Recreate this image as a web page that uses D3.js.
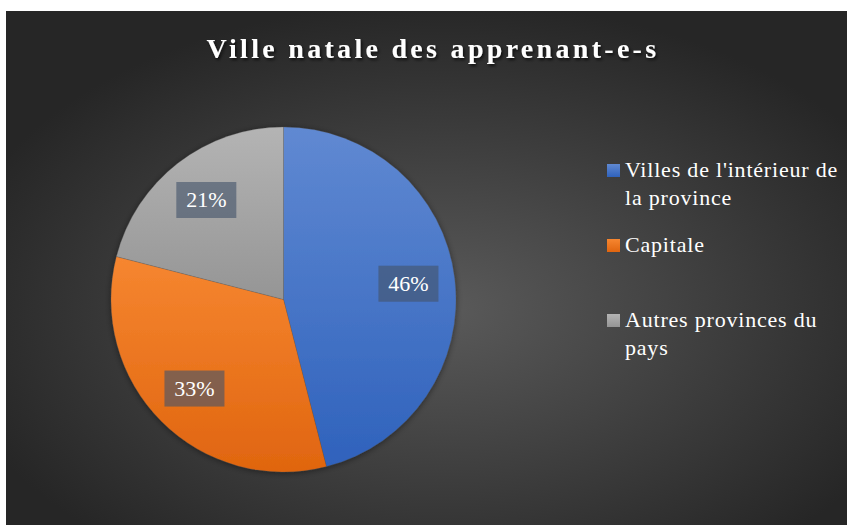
<!DOCTYPE html>
<html>
<head>
<meta charset="utf-8">
<script src="https://cdn.jsdelivr.net/npm/d3@7"></script>
<style>
  body { margin: 0; background: #fff; }
  svg { display: block; }
  .serif { font-family: "Liberation Serif", "DejaVu Serif", serif; }
</style>
</head>
<body>
<svg id="chart" width="847" height="525"></svg>
<script>
// data
var categories = ["Villes de l'intérieur de la province", "Capitale", "Autres provinces du pays"];
var legendLines = [["Villes de l'intérieur de", "la province"], ["Capitale"], ["Autres provinces du", "pays"]];
var values = [46, 33, 21];
var titleText = "Ville natale des apprenant-e-s";

var W = 847, H = 525;
var svg = d3.select("#chart");
var defs = svg.append("defs");

// background gradient
var bg = defs.append("radialGradient").attr("id", "bgGrad")
    .attr("cx", "52%").attr("cy", "58%").attr("r", "60%");
bg.append("stop").attr("offset", "0%").attr("stop-color", "#5a5a5a");
bg.append("stop").attr("offset", "100%").attr("stop-color", "#262626");

// slice gradients (light on top, darker bottom)
var sliceCols = [["#6089d2", "#2f62bc"], ["#f68630", "#e0650f"], ["#b4b4b4", "#959595"]];
sliceCols.forEach(function(c, i){
    var g = defs.append("linearGradient").attr("id", "sg"+i)
        .attr("x1", 0).attr("y1", 0).attr("x2", 0).attr("y2", 1);
    g.append("stop").attr("offset", "0%").attr("stop-color", c[0]);
    g.append("stop").attr("offset", "100%").attr("stop-color", c[1]);
});

var sh = defs.append("filter").attr("id", "pieShadow")
    .attr("x", "-10%").attr("y", "-10%").attr("width", "120%").attr("height", "120%");
sh.append("feDropShadow").attr("dx", 0).attr("dy", 1).attr("stdDeviation", 3)
    .attr("flood-color", "#000").attr("flood-opacity", 0.45);

var tsh = defs.append("filter").attr("id", "titleShadow")
    .attr("x", "-5%").attr("y", "-20%").attr("width", "110%").attr("height", "160%");
tsh.append("feDropShadow").attr("dx", 1.5).attr("dy", 2).attr("stdDeviation", 1.5)
    .attr("flood-color", "#000").attr("flood-opacity", 0.7);

svg.append("rect")
    .attr("x", 6).attr("y", 11)
    .attr("width", W - 6).attr("height", H - 11)
    .attr("fill", "url(#bgGrad)");

// title
svg.append("text")
    .attr("class", "serif")
    .attr("x", 433).attr("y", 58)
    .attr("text-anchor", "middle")
    .attr("font-weight", "bold")
    .attr("font-size", 28)
    .attr("letter-spacing", 3.3)
    .attr("fill", "#fff")
    .attr("filter", "url(#titleShadow)")
    .text(titleText);

// pie
var cx = 283.5, cy = 299.5, r = 172.5;
var pie = d3.pie().sort(null).value(function(d){ return d; });
var arcs = pie(values);
var arc = d3.arc().innerRadius(0).outerRadius(r);
var labelArc = d3.arc().innerRadius(r * 0.73).outerRadius(r * 0.73);

var g = svg.append("g").attr("transform", "translate(" + cx + "," + cy + ")");

g.append("g").attr("filter", "url(#pieShadow)")
    .selectAll("path")
    .data(arcs)
    .enter().append("path")
    .attr("d", arc)
    .attr("fill", function(d, i){ return "url(#sg" + i + ")"; })
    .attr("stroke", "rgba(80,80,80,0.35)")
    .attr("stroke-width", 0.6);

var total = d3.sum(values);
var lab = g.selectAll(".lab")
    .data(arcs)
    .enter().append("g")
    .attr("class", "lab")
    .attr("transform", function(d){ return "translate(" + labelArc.centroid(d) + ")"; });

lab.append("rect")
    .attr("x", -30).attr("y", -18)
    .attr("width", 60).attr("height", 36)
    .attr("fill", "#44546a")
    .attr("fill-opacity", 0.62);

lab.append("text")
    .attr("class", "serif")
    .attr("text-anchor", "middle")
    .attr("y", 7.5)
    .attr("font-size", 22)
    .attr("fill", "#fff")
    .text(function(d){ return Math.round(d.value / total * 100) + "%"; });

// legend
var leg = svg.append("g").attr("transform", "translate(607,177)");
var item = leg.selectAll(".item")
    .data(categories)
    .enter().append("g")
    .attr("class", "item")
    .attr("transform", function(d, i){ return "translate(0," + (i * 75) + ")"; });

item.append("rect")
    .attr("x", 0).attr("y", -13)
    .attr("width", 13).attr("height", 13)
    .attr("fill", function(d, i){ return "url(#sg" + i + ")"; });

item.append("text")
    .attr("class", "serif")
    .attr("x", 18)
    .attr("font-size", 22)
    .attr("letter-spacing", 0.8)
    .attr("fill", "#fff")
    .selectAll("tspan")
    .data(function(d, i){ return legendLines[i]; })
    .enter().append("tspan")
    .attr("x", 18)
    .attr("y", function(d, j){ return j * 28; })
    .text(function(d){ return d; });
</script>
</body>
</html>
